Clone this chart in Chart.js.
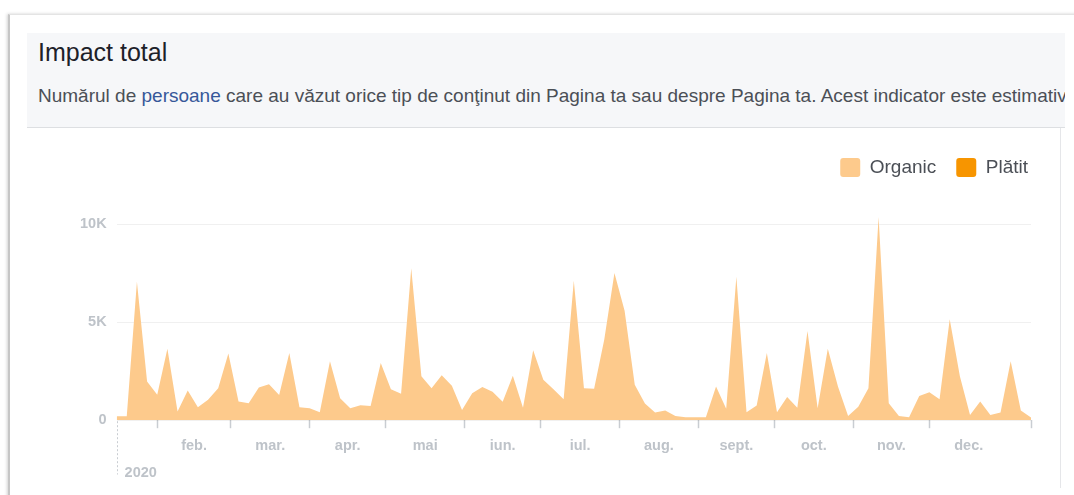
<!DOCTYPE html>
<html>
<head>
<meta charset="utf-8">
<script src="https://cdn.jsdelivr.net/npm/chart.js@4.4.0/dist/chart.umd.min.js"></script>
<style>
    body {
        margin: 0;
        width: 1074px;
        height: 495px;
        overflow: hidden;
        background: #fff;
        position: relative;
        font-family: "Liberation Sans", Arial, sans-serif;
    }

    .card {
        position: absolute;
        left: 8px;
        top: 14px;
        width: 1100px;
        height: 520px;
        border-top: 1px solid #e4e4e4;
        border-left: 2px solid #c6c6c6;
        box-shadow: -1px 0 3px rgba(0, 0, 0, 0.18);
    }

    .head {
        position: absolute;
        left: 27px;
        top: 33px;
        width: 1038px;
        height: 94px;
        background: #f6f7f9;
        border-bottom: 1px solid #dddfe2;
        overflow: hidden;
    }

    .title {
        position: absolute;
        left: 11px;
        top: 5px;
        font-size: 25px;
        color: #1d2129;
        white-space: nowrap;
    }

    .sub {
        position: absolute;
        left: 11px;
        top: 52px;
        font-size: 19px;
        color: #4b4f56;
        white-space: nowrap;
    }

    .sub a {
        color: #365899;
        text-decoration: none;
    }

    .vline {
        position: absolute;
        left: 1060px;
        top: 128px;
        width: 1px;
        height: 360px;
        background: #e5e6e9;
    }

    .wrap {
        position: absolute;
        left: 0;
        top: 130px;
        width: 1060px;
        height: 365px;
    }
</style>
</head>
<body>

<div class="card"></div>

<div class="head">
    <div class="title">Impact total</div>
    <div class="sub">Numărul de <a>persoane</a> care au văzut orice tip de conţinut din Pagina ta sau despre Pagina ta. Acest indicator este estimativ.</div>
</div>

<div class="vline"></div>

<div class="wrap">
    <canvas id="cImpact"></canvas>
</div>

<script>
/* data */

// one point every 4 days, first one on 16 ian. 2020 (day 15 of the year)
const firstDay = 15;
const stepDays = 4;

const organic = [
    200, 200, 7070, 1980, 1300, 3640, 440, 1520, 660, 1040,
    1630, 3400, 950, 860, 1670, 1840, 1290, 3430, 660, 610,
    400, 3010, 1120, 610, 760, 730, 2920, 1580, 1350, 7750,
    2240, 1630, 2290, 1760, 520, 1380, 1700, 1450, 940, 2270,
    640, 3570, 2060, 1580, 1070, 7120, 1630, 1600, 4120, 7510,
    5580, 1810, 850, 390, 490, 210, 150, 150, 150, 1720,
    580, 7320, 400, 750, 3430, 400, 1180, 640, 4550, 610,
    3640, 1720, 210, 690, 1630, 10370, 860, 210, 150, 1240,
    1430, 1070, 5150, 2240, 270, 950, 270, 390, 3010, 490,
    140
];

const paid = [
    0, 0, 0, 0, 0, 0, 0, 0, 0, 0,
    0, 0, 0, 0, 0, 0, 0, 0, 0, 0,
    0, 0, 0, 0, 0, 0, 0, 0, 0, 0,
    0, 0, 0, 0, 0, 0, 0, 0, 0, 0,
    0, 0, 0, 0, 0, 0, 0, 0, 0, 0,
    0, 0, 0, 0, 0, 0, 0, 0, 0, 0,
    0, 0, 0, 0, 0, 0, 0, 0, 0, 0,
    0, 0, 0, 0, 0, 0, 0, 0, 0, 0,
    0, 0, 0, 0, 0, 0, 0, 0, 0, 0,
    0
];

// first day of each month (day of year, 2020)
const monthStarts = [31, 60, 91, 121, 152, 182, 213, 244, 274, 305, 335];
const monthLabels = ["feb.", "mar.", "apr.", "mai", "iun.", "iul.", "aug.", "sept.", "oct.", "nov.", "dec."];
const yearEnd = 366;
const yearLabel = "2020";

const yTicks = [0, 5000, 10000];

/* helpers */

const dayOf = i => firstDay + i * stepDays;
const lastDay = dayOf(organic.length - 1);

const toPoints = arr => arr.map((v, i) => ({ x: dayOf(i), y: v }));

const monthMids = monthStarts.map((d, i) =>
    (d + (monthStarts[i + 1] || yearEnd)) / 2
);

const fmtK = v => v === 0 ? "0" : (v / 1000) + "K";

const FONT = "'Liberation Sans', Arial, sans-serif";
const tickFont = { family: FONT, size: 14.5, weight: "bold" };
const tickColor = "#bec3c9";

// dashed line over the year label
const yearLine = {
    id: "yearLine",
    afterDraw(chart) {
        const { ctx, scales } = chart;
        const x = Math.round(scales.x.getPixelForValue(firstDay)) + 0.5;
        ctx.save();
        ctx.strokeStyle = "#c9cdd2";
        ctx.lineWidth = 1;
        ctx.setLineDash([2, 2]);
        ctx.beginPath();
        ctx.moveTo(x, scales.x.top + 1);
        ctx.lineTo(x, scales.x3.top + 11);
        ctx.stroke();
        ctx.restore();
    }
};

/* chart */

new Chart(
    document.getElementById("cImpact"),
    {
        type: "line",

        data: {
            datasets: [
                {
                    label: "Organic",
                    data: toPoints(organic),
                    backgroundColor: "#fdca8c",
                    borderColor: "#fdca8c",
                    borderWidth: 0,
                    pointRadius: 0,
                    fill: "origin",
                    tension: 0
                },
                {
                    label: "Plătit",
                    data: toPoints(paid),
                    backgroundColor: "#f79500",
                    borderColor: "#f79500",
                    borderWidth: 0,
                    pointRadius: 0,
                    fill: "origin",
                    tension: 0
                }
            ]
        },

        options: {
            responsive: true,
            maintainAspectRatio: false,
            animation: false,

            layout: {
                padding: { left: 70, right: 12, top: 8, bottom: 12 }
            },

            plugins: {
                tooltip: { enabled: false },
                legend: {
                    position: "top",
                    align: "end",
                    labels: {
                        boxWidth: 20,
                        boxHeight: 19,
                        padding: 20,
                        useBorderRadius: true,
                        borderRadius: 3,
                        color: "#4b4f56",
                        font: { family: FONT, size: 19 }
                    }
                }
            },

            scales: {
                // month boundaries, tick marks only
                x: {
                    type: "linear",
                    position: "bottom",
                    weight: 0,
                    min: firstDay,
                    max: lastDay,
                    afterBuildTicks: s => {
                        s.ticks = monthStarts.concat([lastDay]).map(v => ({ value: v }));
                    },
                    grid: {
                        display: true,
                        drawOnChartArea: false,
                        drawTicks: true,
                        tickLength: 8,
                        tickColor: "#c9cdd2",
                        tickWidth: 1.5
                    },
                    border: { display: false },
                    ticks: { display: false }
                },

                // month names, centred in each month
                x2: {
                    type: "linear",
                    position: "bottom",
                    weight: 1,
                    min: firstDay,
                    max: lastDay,
                    afterBuildTicks: s => {
                        s.ticks = monthMids.map(v => ({ value: v }));
                    },
                    grid: { display: false, drawTicks: false },
                    border: { display: false },
                    ticks: {
                        autoSkip: false,
                        maxRotation: 0,
                        padding: 9,
                        color: tickColor,
                        font: tickFont,
                        callback: (v, i) => monthLabels[i]
                    }
                },

                // year under the first point
                x3: {
                    type: "linear",
                    position: "bottom",
                    weight: 2,
                    min: firstDay,
                    max: lastDay,
                    afterBuildTicks: s => {
                        s.ticks = [{ value: firstDay }];
                    },
                    grid: { display: false, drawTicks: false },
                    border: { display: false },
                    ticks: {
                        autoSkip: false,
                        maxRotation: 0,
                        align: "start",
                        labelOffset: 8,
                        padding: 1,
                        color: tickColor,
                        font: tickFont,
                        callback: () => yearLabel
                    }
                },

                y: {
                    min: 0,
                    max: 11900,
                    z: 1,
                    afterBuildTicks: s => {
                        s.ticks = yTicks.map(v => ({ value: v }));
                    },
                    grid: {
                        color: "rgba(0, 0, 0, 0.06)",
                        drawTicks: false
                    },
                    border: { display: false },
                    ticks: {
                        padding: 10,
                        color: tickColor,
                        font: tickFont,
                        callback: v => fmtK(v)
                    }
                },

                // keeps the plot clear of the legend's right edge
                yPad: {
                    position: "right",
                    grid: { display: false, drawTicks: false },
                    border: { display: false },
                    ticks: { display: false },
                    afterFit: s => {
                        s.width = 17;
                    }
                }
            }
        },

        plugins: [yearLine]
    }
);
</script>
</body>
</html>
